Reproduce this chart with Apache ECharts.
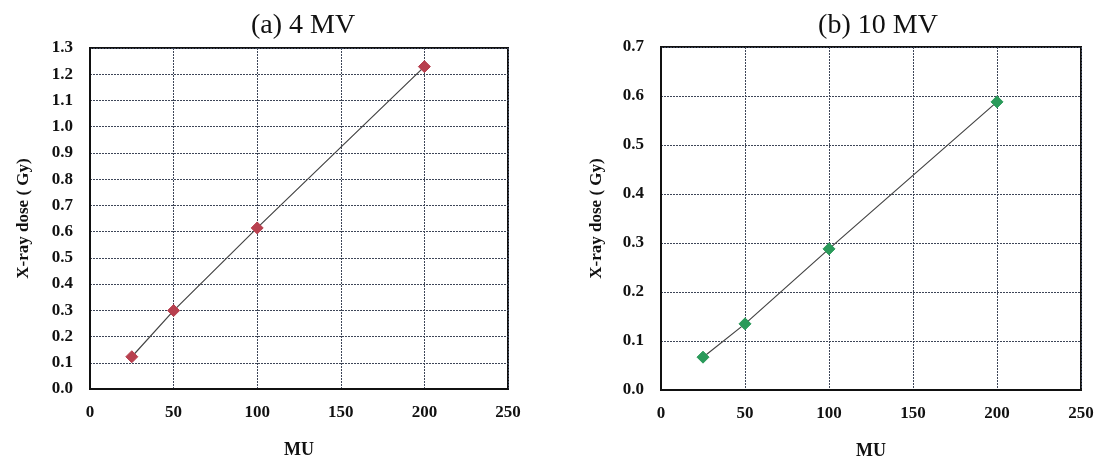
<!DOCTYPE html>
<html>
<head>
<meta charset="utf-8">
<script src="https://cdn.jsdelivr.net/npm/echarts@6/dist/echarts.min.js"></script>
<style>
html,body{margin:0;padding:0;background:#fff;}
#chart{width:1097px;height:465px;}
</style>
</head>
<body>
<div id="chart"></div>
<script>
const muA = [25, 50, 100, 200];
const doseA = [0.123, 0.299, 0.614, 1.229];
const muB = [25, 50, 100, 200];
const doseB = [0.067, 0.135, 0.288, 0.588];
const titleA = '(a) 4 MV';
const titleB = '(b) 10 MV';
const yName = 'X-ray dose ( Gy)';
const xName = 'MU';

const serif = '"Liberation Serif","Times New Roman",serif';
const gridLine = {show: true, lineStyle: {color: '#3e4658', type: [2, 1], width: 1}};

function xAxis(gi) {
  return {
    gridIndex: gi, type: 'value', min: 0, max: 250, interval: 50,
    name: xName, nameLocation: 'middle', nameGap: 52,
    nameTextStyle: {fontFamily: serif, fontWeight: 'bold', fontSize: 18, color: '#111'},
    axisLine: {show: true, lineStyle: {color: '#111', width: 2}},
    axisTick: {show: false},
    axisLabel: {fontFamily: serif, fontWeight: 'bold', fontSize: 17, color: '#111', margin: 15},
    splitLine: gridLine
  };
}
function yAxis(gi, max, gap) {
  return {
    gridIndex: gi, type: 'value', min: 0, max: max, interval: 0.1,
    name: yName, nameLocation: 'middle', nameGap: gap, nameRotate: 90,
    nameTextStyle: {fontFamily: serif, fontWeight: 'bold', fontSize: 17, color: '#111'},
    axisLine: {show: true, lineStyle: {color: '#111', width: 2}},
    axisTick: {show: false},
    axisLabel: {fontFamily: serif, fontWeight: 'bold', fontSize: 17, color: '#111', margin: 17,
      formatter: v => v.toFixed(1)},
    splitLine: gridLine
  };
}
function series(gi, xs, ys, color) {
  return {
    type: 'line', xAxisIndex: gi, yAxisIndex: gi,
    data: xs.map((x, i) => [x, ys[i]]),
    symbol: 'diamond', symbolSize: 12,
    itemStyle: {color: color, borderColor: color},
    lineStyle: {color: '#444', width: 1.2},
    z: 5
  };
}

const chart = echarts.init(document.getElementById('chart'), null, {renderer: 'canvas'});
chart.setOption({
  backgroundColor: '#fff',
  animation: false,
  title: [
    {text: titleA, left: 298, top: 7, textAlign: 'center',
     textStyle: {fontFamily: serif, fontWeight: 'normal', fontSize: 28, color: '#111'}},
    {text: titleB, left: 873, top: 7, textAlign: 'center',
     textStyle: {fontFamily: serif, fontWeight: 'normal', fontSize: 28, color: '#111'}}
  ],
  grid: [
    {left: 90, right: 589, top: 48, bottom: 76, show: true, borderColor: '#111', borderWidth: 2, backgroundColor: '#fff'},
    {left: 661, right: 16, top: 47, bottom: 71, show: true, borderColor: '#111', borderWidth: 2, backgroundColor: '#fff'}
  ],
  xAxis: [xAxis(0), xAxis(1)],
  yAxis: [yAxis(0, 1.3, 58), yAxis(1, 0.7, 56)],
  series: [
    series(0, muA, doseA, '#b8404f'),
    series(1, muB, doseB, '#2a9a5a')
  ]
});
</script>
</body>
</html>
